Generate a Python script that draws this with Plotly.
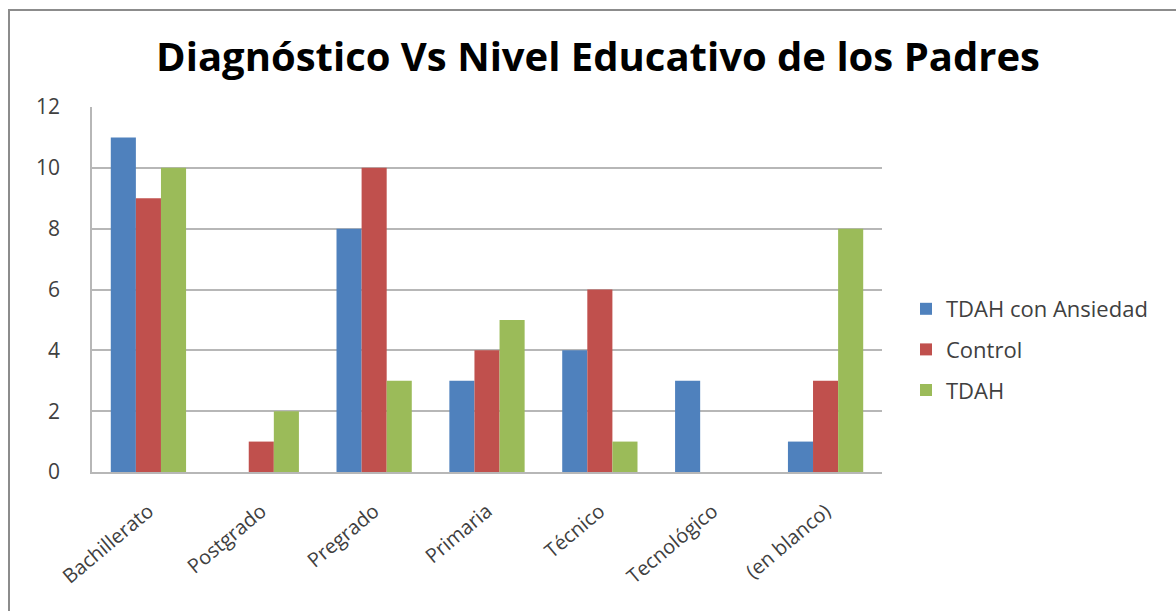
import plotly.graph_objects as go

categorias = ["Bachillerato", "Postgrado", "Pregrado", "Primaria", "Técnico", "Tecnológico", "(en blanco)"]
tdah_ansiedad = [11, 0, 8, 3, 4, 3, 1]
control = [9, 1, 10, 4, 6, 0, 3]
tdah = [10, 2, 3, 5, 1, 0, 8]

series = [
    ("TDAH con Ansiedad", tdah_ansiedad, "#4F81BD"),
    ("Control", control, "#C0504D"),
    ("TDAH", tdah, "#9BBB59"),
]

W, H = 1176, 611
L, R, T, B = 92, 294, 107, 139
pw, ph = W - L - R, H - T - B

fig = go.Figure()
for i, (nombre, valores, color) in enumerate(series):
    fig.add_trace(go.Bar(
        x=categorias, y=valores, name=nombre,
        marker=dict(color=color, line=dict(width=0)),
        legendgroup=f"g{i}",
    ))

font = "'Open Sans', sans-serif"

fig.update_layout(
    width=W, height=H,
    margin=dict(l=L, r=R, t=T, b=B),
    paper_bgcolor="white", plot_bgcolor="white",
    barmode="group", bargap=0.333, bargroupgap=0,
    font=dict(family=font, color="#404040"),
    title=dict(
        text="<b>Diagnóstico Vs Nivel Educativo de los Padres</b>",
        x=598 / W, xanchor="center", xref="container",
        y=1 - 57 / H, yanchor="middle",
        font=dict(size=40, color="#000000", family=font),
    ),
    legend=dict(
        x=(906 - L) / pw, xanchor="left",
        y=(H - B - 288) / ph, yanchor="top",
        font=dict(size=22, color="#404040"),
        tracegroupgap=9,
        itemwidth=30,
        bgcolor="rgba(0,0,0,0)",
    ),
    showlegend=True,
)

fig.update_yaxes(
    range=[0, 12], dtick=2,
    showgrid=True, gridcolor="#B7B7B7", gridwidth=1.5,
    showline=True, linecolor="#B7B7B7", linewidth=1.5,
    ticks="", ticklabelstandoff=26,
    tickfont=dict(size=21, color="#404040"),
    zeroline=False,
)
fig.update_xaxes(
    showline=True, linecolor="#B7B7B7", linewidth=1.5,
    tickangle=-40, ticks="", ticklabelstandoff=18,
    tickfont=dict(size=20, color="#404040"),
)

# chart frame
fig.add_shape(
    type="rect", xref="paper", yref="paper",
    x0=(9 - L) / pw, x1=(W + 10 - L) / pw,
    y0=(H - B - (H + 10)) / ph, y1=(H - B - 10) / ph,
    line=dict(color="#8C8C8C", width=2), fillcolor="rgba(0,0,0,0)",
    layer="below",
)

fig.write_html("out.html")
